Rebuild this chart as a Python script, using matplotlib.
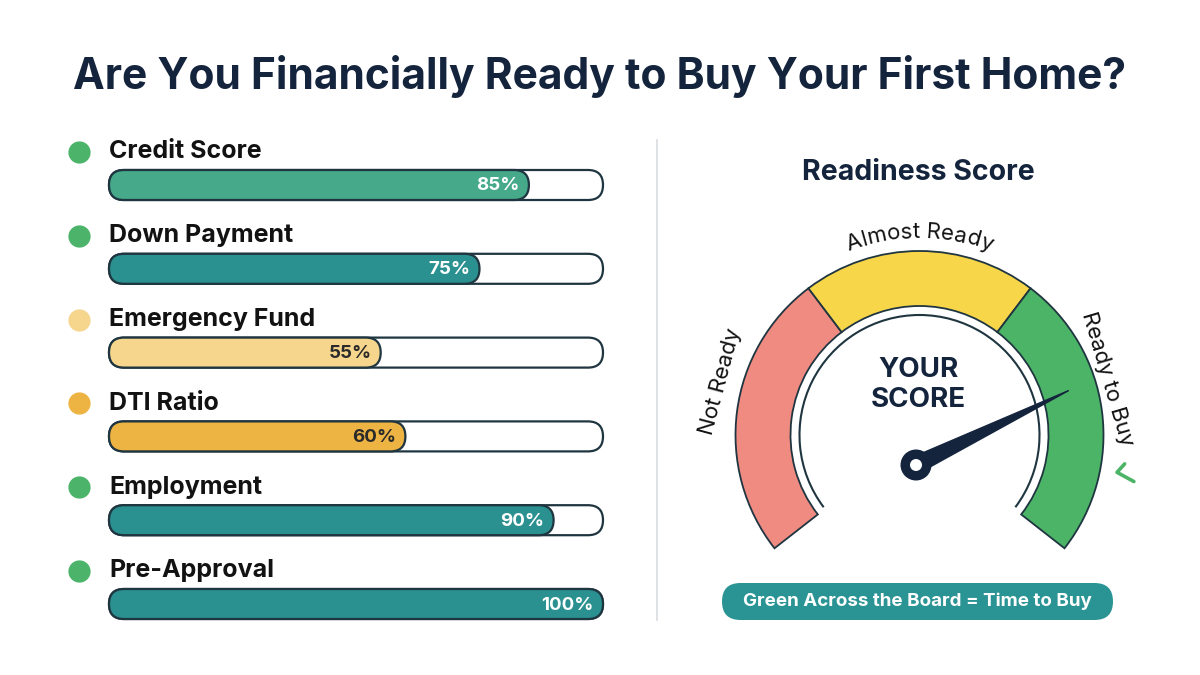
import numpy as np
import matplotlib
matplotlib.use('Agg')
import matplotlib.pyplot as plt
from matplotlib.patches import FancyBboxPatch, Wedge, Circle, Polygon, Arc
from matplotlib.lines import Line2D
from matplotlib.font_manager import FontProperties

plt.rcParams['font.family'] = ['Inter', 'DejaVu Sans']

# Dane
categories = ['Credit Score', 'Down Payment', 'Emergency Fund', 'DTI Ratio', 'Employment', 'Pre-Approval']
scores = [85, 75, 55, 60, 90, 100]
status = ['good', 'good', 'caution', 'warning', 'good', 'good']
zone_names = ['Not Ready', 'Almost Ready', 'Ready to Buy']
zone_edges = [0, 35.5, 64.5, 100]
your_score = 75

title = 'Are You Financially Ready to Buy Your First Home?'
gauge_title = 'Readiness Score'
center_text = 'YOUR\nSCORE'
badge_text = 'Green Across the Board = Time to Buy'

# Kolory
NAVY = '#14243d'
INK = '#121212'
EDGE = '#1f3540'
bar_colors = ['#45a98a', '#2b9190', '#f6d68c', '#edb443', '#2b9190', '#2b9190']
pct_colors = ['white', 'white', '#2a2a2a', '#2a2a2a', 'white', 'white']
dot_colors = {'good': '#4cb46a', 'caution': '#f6d68c', 'warning': '#edb443'}
zone_colors = ['#f08b82', '#f7d64a', '#4cb466']

W, H = 1200, 675
fig = plt.figure(figsize=(12, 6.75), dpi=100)
fig.patch.set_facecolor('white')

fig.text(0.5, 1 - 76 / H, title, ha='center', va='center', fontsize=30.6,
         fontweight='bold', color=NAVY)

# Pionowa linia podziału
fig.add_artist(Line2D([657 / W, 657 / W], [1 - 140 / H, 1 - 620 / H],
                      transform=fig.transFigure, color='#dcdfe3', lw=1.3))

# ---- Paski postępu (lewa strona) ----
x0, x1 = 109, 603
ytop, ybot = 130, 640
ax = fig.add_axes([x0 / W, 1 - ybot / H, (x1 - x0) / W, (ybot - ytop) / H])
ax.set_xlim(0, 100)
ax.set_ylim(ybot, ytop)  # jednostka y = 1 px
ax.axis('off')
px_per_unit = (x1 - x0) / 100.0
bar_h = 30
r_units = (bar_h / 2) / px_per_unit
row_step = 83.8
bar_y = 185 + row_step * np.arange(len(categories))  # środek paska
label_y = bar_y - 33

for i, (cat, v) in enumerate(zip(categories, scores)):
    yc = bar_y[i]
    track = FancyBboxPatch((0, yc - bar_h / 2), 100, bar_h,
                           boxstyle=f'round,pad=0,rounding_size={r_units}',
                           mutation_aspect=px_per_unit, facecolor='white',
                           edgecolor=EDGE, lw=1.6, clip_on=False, zorder=2)
    ax.add_patch(track)
    fill = FancyBboxPatch((0, yc - bar_h / 2), v, bar_h,
                          boxstyle=f'round,pad=0,rounding_size={r_units}',
                          mutation_aspect=px_per_unit, facecolor=bar_colors[i],
                          edgecolor=EDGE, lw=1.6, clip_on=False, zorder=3)
    ax.add_patch(fill)
    ax.text(v - 9 / px_per_unit, yc + 1, f'{v}%', ha='right', va='center',
            fontsize=13.5, fontweight='bold', color=pct_colors[i], zorder=4)
    ax.text(0, label_y[i], cat, ha='left', va='center', fontsize=18,
            fontweight='bold', color=INK, clip_on=False)
    ax.plot([-30 / px_per_unit], [label_y[i]], 'o', ms=15,
            color=dot_colors[status[i]], clip_on=False)

# ---- Wskaźnik (prawa strona) ----
gx0, gx1, gy0, gy1 = 680, 1160, 140, 640
cx, cy = 919.5, 435
gax = fig.add_axes([gx0 / W, 1 - gy1 / H, (gx1 - gx0) / W, (gy1 - gy0) / H])
gax.set_xlim(gx0 - cx, gx1 - cx)
gax.set_ylim(cy - gy1, cy - gy0)
gax.axis('off')

a_start, a_sweep = 218.0, 256.0


def ang(s):
    return a_start - s / 100.0 * a_sweep


r_out, r_in = 184, 129
for k in range(3):
    gax.add_patch(Wedge((0, 0), r_out, ang(zone_edges[k + 1]), ang(zone_edges[k]),
                        width=r_out - r_in, facecolor=zone_colors[k],
                        edgecolor=EDGE, lw=1.3))
gax.add_patch(Arc((0, 0), 240, 240, theta1=ang(100) + 1, theta2=ang(0) - 1,
                  color=EDGE, lw=1.5))

gax.text(-1.5, 262, gauge_title, ha='center', va='center', fontsize=20.5,
         fontweight='bold', color=NAVY)
gax.text(-1.5, 50, center_text, ha='center', va='center', fontsize=20,
         fontweight='bold', color=NAVY, linespacing=1.2)


def polar(r, a):
    return r * np.cos(np.radians(a)), r * np.sin(np.radians(a))


# Etykiety stref
x, y = polar(206, 165)
gax.text(x, y, zone_names[0], ha='center', va='center', rotation=75,
         fontsize=16, color=INK, rotation_mode='anchor')
x, y = polar(196, 16.5)
gax.text(x, y, zone_names[2], ha='center', va='center', rotation=-73.5,
         fontsize=16, color=INK, rotation_mode='anchor')

# Znaczek "✓" przy "Ready to Buy", obrócony jak napis
chk_local = np.array([[-7.0, 9.0], [0.0, 0.0], [12.0, 15.0]])
rot = np.radians(-80)
R = np.array([[np.cos(rot), -np.sin(rot)], [np.sin(rot), np.cos(rot)]])
anchor = np.array(polar(201, -10.7))
chk = chk_local @ R.T + anchor
gax.plot(chk[:, 0], chk[:, 1], color=zone_colors[2], lw=2.6,
         solid_capstyle='round', solid_joinstyle='round')

# Zakrzywiony napis "Almost Ready"
renderer = fig.canvas.get_renderer()
fp = FontProperties(family=['Inter', 'DejaVu Sans'], size=16)


def tw(s):
    return renderer.get_text_width_height_descent(s, fp, ismath=False)[0]


s = zone_names[1]
r_txt = 197
total = tw(s)
for i, ch in enumerate(s):
    if ch == ' ':
        continue
    wch = tw(ch)
    left = tw(s[:i + 1]) - wch
    mid = left + wch / 2
    a = 90 + np.degrees((total / 2 - mid) / r_txt)
    x, y = polar(r_txt, a)
    gax.text(x, y, ch, fontproperties=fp, color=INK, ha='center', va='baseline',
             rotation=a - 90, rotation_mode='anchor')

# Wskazówka
hub = np.array([-3.5, -30.0])
na = np.radians(ang(your_score))
d = np.array([np.cos(na), np.sin(na)])
p = np.array([-d[1], d[0]])
tip = hub + d * 170
gax.add_patch(Polygon([hub + p * 8.5, tip, hub - p * 8.5], closed=True,
                      facecolor=NAVY, edgecolor=NAVY, lw=1))
gax.add_patch(Circle(hub, 15.5, facecolor=NAVY, edgecolor='none'))
gax.add_patch(Circle(hub, 6, facecolor='white', edgecolor='none'))

# Plakietka
bx0, bx1, by0, by1 = 722 - cx, 1113 - cx, cy - 620, cy - 583
gax.add_patch(FancyBboxPatch((bx0, by0), bx1 - bx0, by1 - by0,
                             boxstyle=f'round,pad=0,rounding_size={(by1 - by0) / 2}',
                             facecolor='#2a9393', edgecolor='none'))
gax.text((bx0 + bx1) / 2, (by0 + by1) / 2, badge_text, ha='center', va='center',
         fontsize=13.5, fontweight='bold', color='white')

fig.savefig('out.png', dpi=100, facecolor='white')
